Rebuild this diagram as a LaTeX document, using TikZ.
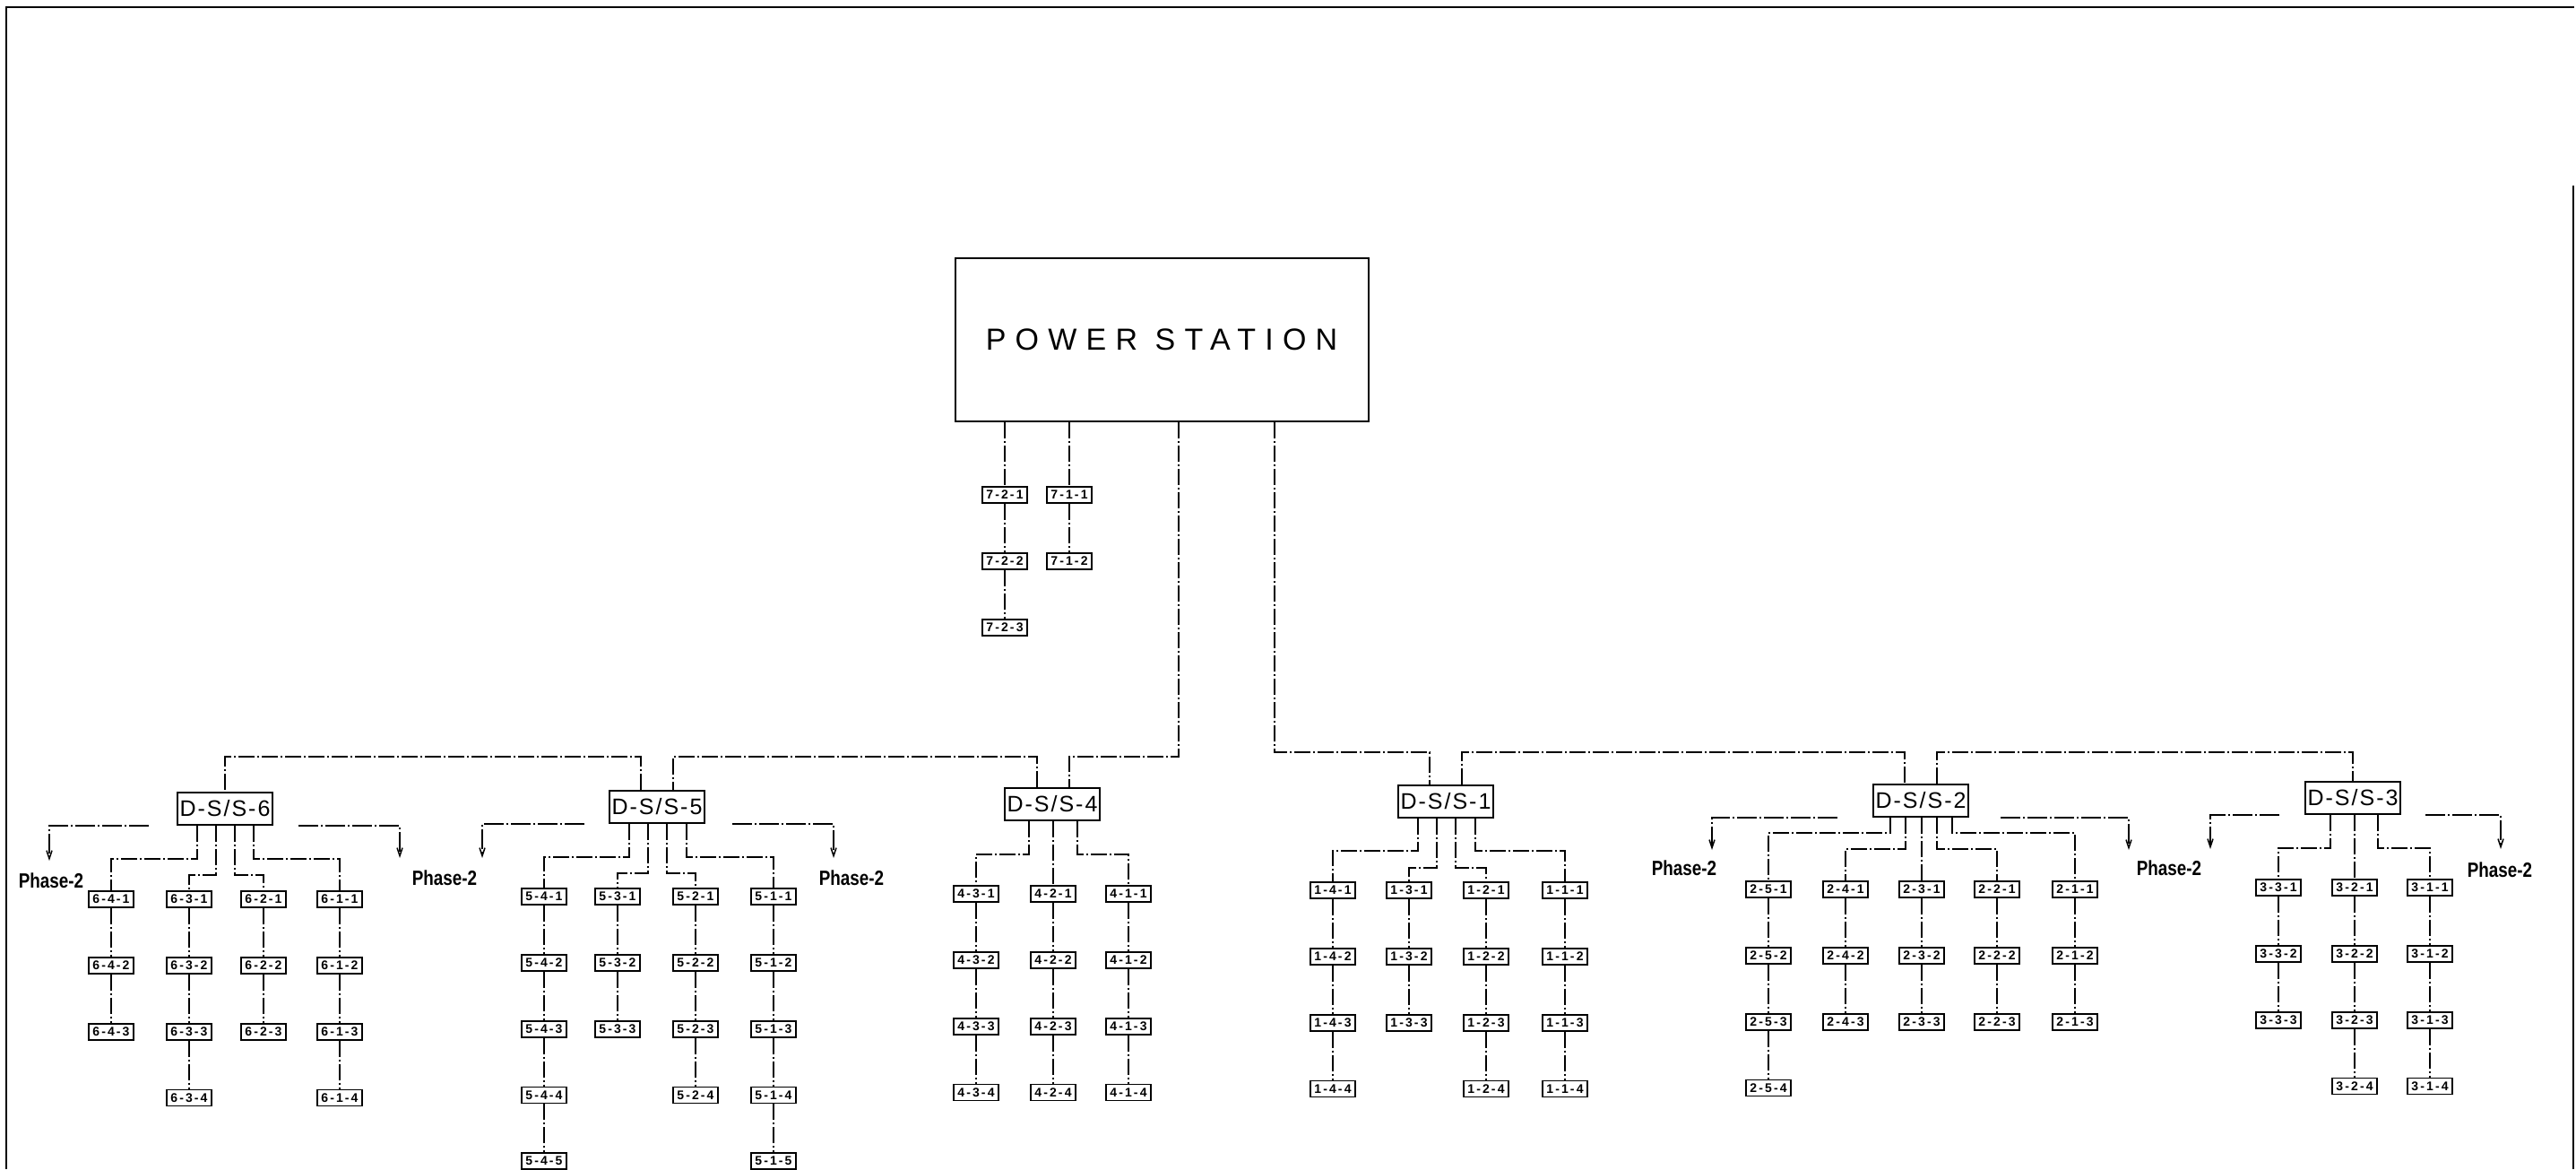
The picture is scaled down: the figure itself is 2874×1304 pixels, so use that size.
\documentclass[tikz,border=0pt]{standalone}
\usepackage{fontspec}
\setmainfont{Liberation Sans}
\newfontfamily\psfont[LetterSpace=30]{Liberation Sans}
\newfontfamily\dssfont[LetterSpace=8]{Liberation Sans}
\newfontfamily\labfont[LetterSpace=15]{Liberation Sans}
\newfontfamily\phasefont[FakeStretch=0.82]{Liberation Sans}
\usetikzlibrary{arrows.meta,positioning}

\begin{document}
\begin{tikzpicture}[x=1pt,y=-1pt,>={Straight Barb[length=9pt,width=6pt]},
  feed/.style={line width=2.8pt,dash pattern=on 18pt off 3pt on 2pt off 3pt},
  phase/.style={line width=1.5pt,dash pattern=on 22pt off 3pt on 2pt off 3pt,->},
  station/.style={draw,line width=2pt,minimum width=461pt,minimum height=182pt,font=\psfont\fontsize{34}{34}\selectfont},
  dss/.style={draw,line width=2pt,minimum width=106pt,minimum height=36pt,inner sep=0pt,font=\dssfont\fontsize{25}{25}\selectfont},
  sub/.style={draw,line width=1.8pt,minimum width=50pt,minimum height=18pt,inner sep=0pt,font=\labfont\bfseries\fontsize{14}{14}\selectfont},
  tag/.style={font=\phasefont\bfseries\fontsize{23}{23}\selectfont}]
\useasboundingbox (0,0) rectangle (2874,1304);
\draw[line width=2.2pt] (7,1304) -- (7,8) -- (2872,8);
\draw[line width=2.2pt] (2871,207) -- (2871,1304);

\node[station] (ps) at (1296,379) {POWER STATION};

% feeders straight from the station
\node[sub] (s721) at (1121,552) {7-2-1};
\node[sub,below=54pt of s721] (s722) {7-2-2};
\node[sub,below=54pt of s722] (s723) {7-2-3};
\node[sub] (s711) at (1193,552) {7-1-1};
\node[sub,below=54pt of s711] (s712) {7-1-2};
\draw[feed] (s721 |- ps.south) -- (s721) -- (s722) -- (s723);
\draw[feed] (s711 |- ps.south) -- (s711) -- (s712);

% distribution substations
\node[dss] (d6) at (251,902) {D-S/S-6};
\node[dss] (d5) at (733,900) {D-S/S-5};
\node[dss] (d4) at (1174,897) {D-S/S-4};
\node[dss] (d1) at (1613,894) {D-S/S-1};
\node[dss] (d2) at (2143,893) {D-S/S-2};
\node[dss] (d3) at (2625,890) {D-S/S-3};

\coordinate (d5l) at ([xshift=-18]d5.north);
\coordinate (d5r) at ([xshift=18]d5.north);
\coordinate (d4l) at ([xshift=-17]d4.north);
\coordinate (d4r) at ([xshift=19]d4.north);
\coordinate (d1l) at ([xshift=-18]d1.north);
\coordinate (d1r) at ([xshift=18]d1.north);
\coordinate (d2l) at ([xshift=-18]d2.north);
\coordinate (d2r) at ([xshift=18]d2.north);
\coordinate (lbus) at (0,844);
\coordinate (rbus) at (0,839);

% ring buses
\draw[feed] ([xshift=19]ps.south) |- (lbus -| d4r) -- (d4r);
\draw[feed] (d4l) |- (lbus -| d5r) -- (d5r);
\draw[feed] (d5l) |- (lbus -| d6.north) -- (d6);
\draw[feed] ([xshift=126]ps.south) |- (rbus -| d1l) -- (d1l);
\draw[feed] (d1r) |- (rbus -| d2l) -- (d2l);
\draw[feed] (d2r) |- (rbus -| d3.north) -- (d3);

% outgoing feeders
\foreach \c/\o/\d/\x/\n in {4/-31/37/124/3,3/-10/55/211/4,2/11/55/294/3,1/32/37/379/4}{
  \node[sub] (s6\c1) at (\x,1003) {6-\c-1};
  \draw[feed] ([xshift=\o]d6.south) -- ++(0,\d) -| (s6\c1);
  \foreach \r [remember=\r as \p (initially 1)] in {2,...,\n}{
    \node[sub,below=54pt of s6\c\p] (s6\c\r) {6-\c-\r};
    \draw[feed] (s6\c\p) -- (s6\c\r);
  }
}
\foreach \c/\o/\d/\x/\n in {4/-31/37/607/5,3/-10/55/689/3,2/11/55/776/4,1/33/37/863/5}{
  \node[sub] (s5\c1) at (\x,1000) {5-\c-1};
  \draw[feed] ([xshift=\o]d5.south) -- ++(0,\d) -| (s5\c1);
  \foreach \r [remember=\r as \p (initially 1)] in {2,...,\n}{
    \node[sub,below=54pt of s5\c\p] (s5\c\r) {5-\c-\r};
    \draw[feed] (s5\c\p) -- (s5\c\r);
  }
}
\foreach \c/\o/\d/\x/\n in {3/-26/37/1089/4,2/1/37/1175/4,1/28/37/1259/4}{
  \node[sub] (s4\c1) at (\x,997) {4-\c-1};
  \draw[feed] ([xshift=\o]d4.south) -- ++(0,\d) -| (s4\c1);
  \foreach \r [remember=\r as \p (initially 1)] in {2,...,\n}{
    \node[sub,below=54pt of s4\c\p] (s4\c\r) {4-\c-\r};
    \draw[feed] (s4\c\p) -- (s4\c\r);
  }
}
\foreach \c/\o/\d/\x/\n in {4/-31/36/1487/4,3/-10/55/1572/3,2/11/55/1658/4,1/33/36/1746/4}{
  \node[sub] (s1\c1) at (\x,993) {1-\c-1};
  \draw[feed] ([xshift=\o]d1.south) -- ++(0,\d) -| (s1\c1);
  \foreach \r [remember=\r as \p (initially 1)] in {2,...,\n}{
    \node[sub,below=54pt of s1\c\p] (s1\c\r) {1-\c-\r};
    \draw[feed] (s1\c\p) -- (s1\c\r);
  }
}
\foreach \c/\o/\d/\x/\n in {5/-34/17/1973/4,4/-17/35/2059/3,3/1/17/2144/3,2/18/35/2228/3,1/35/17/2315/3}{
  \node[sub] (s2\c1) at (\x,992) {2-\c-1};
  \draw[feed] ([xshift=\o]d2.south) -- ++(0,\d) -| (s2\c1);
  \foreach \r [remember=\r as \p (initially 1)] in {2,...,\n}{
    \node[sub,below=54pt of s2\c\p] (s2\c\r) {2-\c-\r};
    \draw[feed] (s2\c\p) -- (s2\c\r);
  }
}
\foreach \c/\o/\d/\x/\n in {3/-25/37/2542/3,2/2/37/2627/4,1/28/37/2711/4}{
  \node[sub] (s3\c1) at (\x,990) {3-\c-1};
  \draw[feed] ([xshift=\o]d3.south) -- ++(0,\d) -| (s3\c1);
  \foreach \r [remember=\r as \p (initially 1)] in {2,...,\n}{
    \node[sub,below=54pt of s3\c\p] (s3\c\r) {3-\c-\r};
    \draw[feed] (s3\c\p) -- (s3\c\r);
  }
}

% phase-2 extensions
\coordinate (a6l) at (55,960);
\coordinate (a6r) at (446,957);
\coordinate (a5l) at (538,957);
\coordinate (a5r) at (930,957);
\coordinate (a2l) at (1910,948);
\coordinate (a2r) at (2375,948);
\coordinate (a3l) at (2466,947);
\coordinate (a3r) at (2790,947);
\draw[phase] ([xshift=-31]d6.south west) -| (a6l);
\draw[phase] ([xshift=28]d6.south east) -| (a6r);
\draw[phase] ([xshift=-27]d5.south west) -| (a5l);
\draw[phase] ([xshift=30]d5.south east) -| (a5r);
\draw[phase] ([xshift=-39]d2.south west) -| (a2l);
\draw[phase] ([xshift=35]d2.south east) -| (a2r);
\draw[phase] ([xshift=-28]d3.south west) -| (a3l);
\draw[phase] ([xshift=27]d3.south east) -| (a3r);
\node[tag] (t6) at (57,982) {Phase-2};
\node[tag] (t65) at (496,979) {Phase-2};
\node[tag] (t5) at (950,979) {Phase-2};
\node[tag] (t2) at (1879,968) {Phase-2};
\node[tag] (t23) at (2420,968) {Phase-2};
\node[tag] (t3) at (2789,970) {Phase-2};
\end{tikzpicture}
\end{document}
